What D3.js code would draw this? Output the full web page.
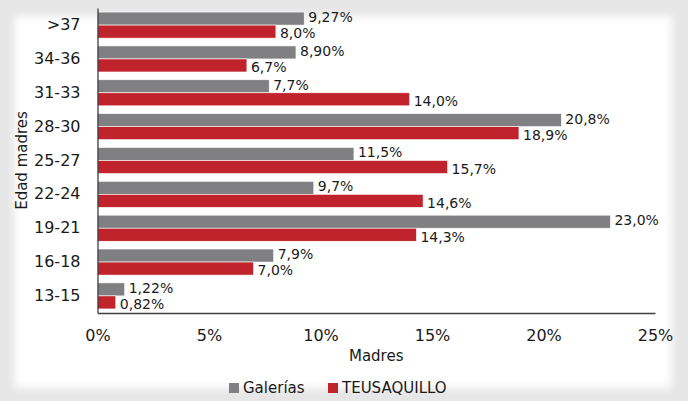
<!DOCTYPE html>
<html>
<head>
<meta charset="utf-8">
<script src="https://cdn.jsdelivr.net/npm/d3@7"></script>
<style>
  body { margin: 0; background: #e6e6e6; }
  svg { display: block; font-family: "DejaVu Sans", sans-serif; }
</style>
</head>
<body>
<div class="canvas"></div>
<script>
// data
const categories = ['>37', '34-36', '31-33', '28-30', '25-27', '22-24', '19-21', '16-18', '13-15'];
const galerias = [9.27, 8.90, 7.7, 20.8, 11.5, 9.7, 23.0, 7.9, 1.22];
const teusaquillo = [8.0, 6.7, 14.0, 18.9, 15.7, 14.6, 14.3, 7.0, 0.82];
const galeriasLabels = ['9,27%', '8,90%', '7,7%', '20,8%', '11,5%', '9,7%', '23,0%', '7,9%', '1,22%'];
const teusaquilloLabels = ['8,0%', '6,7%', '14,0%', '18,9%', '15,7%', '14,6%', '14,3%', '7,0%', '0,82%'];
const seriesNames = ['Galerías', 'TEUSAQUILLO'];
const xTicks = [0, 5, 10, 15, 20, 25];

const W = 688, H = 401;
const plot = { left: 97.5, right: 655, top: 8, bottom: 313 };
const colour = d3.scaleOrdinal(seriesNames, ['#808083', '#c0232b']);

const svg = d3.select('.canvas')
  .append('svg')
  .attr('width', W)
  .attr('height', H);

// soft white panel
const defs = svg.append('defs');
defs.append('filter')
  .attr('id', 'soft')
  .attr('x', '-10%').attr('y', '-10%')
  .attr('width', '120%').attr('height', '120%')
  .append('feGaussianBlur')
  .attr('stdDeviation', 4);

svg.append('rect')
  .attr('x', 14).attr('y', 16)
  .attr('width', 658).attr('height', 372)
  .attr('fill', '#fff')
  .attr('filter', 'url(#soft)');

// scales
const x = d3.scaleLinear()
  .domain([0, 25])
  .range([plot.left, plot.right]);

const y = d3.scaleBand()
  .domain(categories)
  .range([plot.top, plot.bottom])
  .paddingInner(0.23)
  .paddingOuter(0.12);

const ySub = d3.scaleBand()
  .domain(seriesNames)
  .range([0, y.bandwidth()]);

const rows = categories.map((c, i) => ({
  cat: c,
  vals: [
    { name: seriesNames[0], v: galerias[i], label: galeriasLabels[i] },
    { name: seriesNames[1], v: teusaquillo[i], label: teusaquilloLabels[i] }
  ]
}));

const graph = svg.append('g');

const groups = graph.selectAll('g.row')
  .data(rows)
  .enter()
  .append('g')
    .attr('class', 'row')
    .attr('transform', d => `translate(0, ${y(d.cat)})`);

groups.selectAll('rect')
  .data(d => d.vals)
  .enter()
  .append('rect')
    .attr('x', x(0))
    .attr('y', d => ySub(d.name))
    .attr('width', d => x(d.v) - x(0))
    .attr('height', ySub.bandwidth())
    .attr('fill', d => colour(d.name))
    .attr('stroke', '#fff')
    .attr('stroke-width', 0.6);

// data labels: grey ones sit a little high, red ones a little low
groups.selectAll('text')
  .data(d => d.vals)
  .enter()
  .append('text')
    .attr('x', d => x(d.v) + 4)
    .attr('y', (d, i) => ySub(d.name) + ySub.bandwidth() / 2 + (i === 0 ? -1.5 : 2))
    .attr('dy', '0.35em')
    .attr('font-size', 14)
    .attr('fill', '#1a1a1a')
    .text(d => d.label);

// axes
const yAxis = d3.axisLeft(y).tickSize(0).tickPadding(17);
const yG = svg.append('g')
  .attr('transform', `translate(${plot.left}, 0)`)
  .call(yAxis);
yG.select('.domain').attr('stroke', '#404040').attr('stroke-width', 1.3);
yG.selectAll('text')
  .attr('font-size', 16)
  .attr('font-family', '"DejaVu Sans", sans-serif')
  .attr('fill', '#1a1a1a');

const xAxis = d3.axisBottom(x)
  .tickValues(xTicks)
  .tickFormat(d => d + '%')
  .tickSize(0)
  .tickPadding(17);
const xG = svg.append('g')
  .attr('transform', `translate(0, ${plot.bottom})`)
  .call(xAxis);
xG.select('.domain').attr('stroke', '#404040').attr('stroke-width', 1.3);
xG.selectAll('text')
  .attr('font-size', 16)
  .attr('font-family', '"DejaVu Sans", sans-serif')
  .attr('fill', '#1a1a1a');

// axis titles
svg.append('text')
  .attr('x', (plot.left + plot.right) / 2)
  .attr('y', 361)
  .attr('text-anchor', 'middle')
  .attr('font-size', 15)
  .attr('fill', '#1a1a1a')
  .text('Madres');

svg.append('text')
  .attr('transform', `translate(27, ${(plot.top + plot.bottom) / 2}) rotate(-90)`)
  .attr('text-anchor', 'middle')
  .attr('font-size', 15)
  .attr('fill', '#1a1a1a')
  .text('Edad madres');

// legend
const legendPos = [229, 328];
const legend = svg.append('g')
  .attr('transform', 'translate(0, 383)');
const items = legend.selectAll('g')
  .data(seriesNames)
  .enter()
  .append('g')
    .attr('transform', (d, i) => `translate(${legendPos[i]}, 0)`);
items.append('rect')
  .attr('width', 10).attr('height', 10)
  .attr('fill', d => colour(d));
items.append('text')
  .attr('x', 14)
  .attr('y', 10)
  .attr('font-size', 15)
  .attr('fill', '#1a1a1a')
  .text(d => d);
</script>
</body>
</html>
